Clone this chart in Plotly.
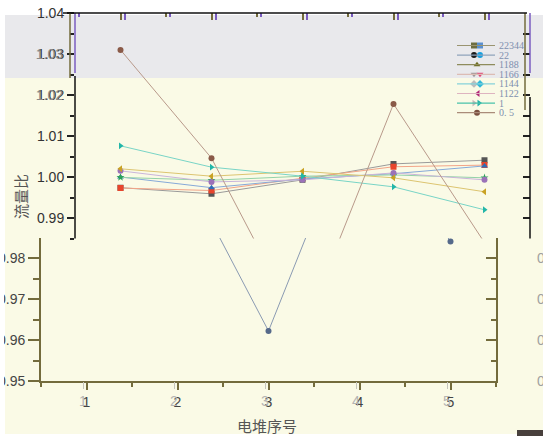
import plotly.graph_objects as go

W, H = 543, 436

# ---------------- data ----------------
stacks = [1, 2, 3, 4, 5]
x_tick_text = ["1", "2", "3", "4", "5"]
series_names = ["22344", "22", "1188", "1166", "1144", "1122", "1", "0. 5"]

s_22344 = [0.9974, 0.9959, 0.9993, 1.0032, 1.0041]
s_22 = [0.9973, 0.9967, 0.9997, 1.0025, 1.0029]
s_1188 = [1.0000, 0.9974, 0.9995, 1.0008, 1.0027]
s_1166 = [0.9999, 0.9992, 1.0002, 1.0005, 0.9998]
s_1144 = [1.0015, 0.9988, 0.9993, 1.0010, 0.9993]
s_1122 = [1.0020, 1.0002, 1.0014, 0.9998, 0.9964]
s_1 = [1.0076, 1.0024, 1.0002, 0.9976, 0.9920]
s_05 = [1.0310, 1.0046, 0.9622, 1.0178, 0.9840]

inner_y_ticks = [0.99, 1.00, 1.01, 1.02, 1.03, 1.04]
inner_y_text = ["0.99", "1.00", "1.01", "1.02", "1.03", "1.04"]
ghost_y_ticks = [1.02, 1.03]
ghost_y_text = ["1.02", "1.03"]
outer_y_ticks = [0.95, 0.96, 0.97, 0.98]
outer_y_text = ["0.95", "0.96", "0.97", "0.98"]

# ---------------- styles ----------------
OL = "#736b3c"
PU = "#7a5cc0"
series_style = [
    ("#555555", "#9a9a9a", "square"),
    ("#e8452c", "#f2a488", "square"),
    ("#2f6db5", "#86a9d8", "triangle-up"),
    ("#2ca25a", "#94d2a8", "star"),
    ("#9a72b8", "#c9b4da", "circle"),
    ("#c9a224", "#dcc470", "triangle-left"),
    ("#22b6a8", "#78d4c6", "triangle-right"),
    ("#8a5a48", "#b8998a", "circle"),
]
legend_style = [
    ("#9a9470", [(0, "#6e6e40", "square"), (6, "#5a90d0", "square")]),
    ("#8fa3bb", [(0, "#1a1a1a", "circle"), (6, "#18a0e0", "circle")]),
    ("#8e8c5c", [(3, "#6a6a1e", "triangle-up")]),
    ("#dcbcb4", [(0, "#a09898", "triangle-down"), (6, "#e04878", "triangle-down")]),
    ("#86d2da", [(0, "#bcbcbc", "diamond"), (6, "#30b8d8", "diamond")]),
    ("#deb4c0", [(4, "#b02878", "triangle-left")]),
    ("#48c2aa", [(0, "#c8b8b8", "triangle-right"), (5, "#20b0a8", "triangle-right")]),
    ("#aa8c7a", [(3, "#7a5040", "circle")]),
]


def px(x):
    return x / W


def py(y):
    return 1 - y / H


fig = go.Figure()

# ---- background (outer) chart: only the band below the inner chart is visible ----
band_top, band_bot = 238.0, 381.0
outer_lo = 0.95
outer_hi = outer_lo + (band_bot - band_top) / 4100.0

fig.add_trace(go.Scatter(
    x=stacks, y=s_05, xaxis="x", yaxis="y", mode="lines+markers",
    line=dict(color="#8a9ab2", width=1),
    marker=dict(color="#55698a", size=6, symbol="circle"),
    showlegend=False, hoverinfo="skip"))

# empty traces so that the ghost / extra axes get drawn
for xa, ya in [("x4", "y"), ("x", "y2"), ("x", "y7"), ("x5", "y3"), ("x2", "y6"), ("x2", "y4")]:
    fig.add_trace(go.Scatter(x=[None], y=[None], xaxis=xa, yaxis=ya, mode="markers",
                             showlegend=False, hoverinfo="skip"))

# ---- inner (foreground) chart ----
all_series = [s_22344, s_22, s_1188, s_1166, s_1144, s_1122, s_1, s_05]
for name, vals, (mc, lc, sym) in zip(series_names, all_series, series_style):
    fig.add_trace(go.Scatter(
        x=stacks, y=vals, xaxis="x2", yaxis="y3", mode="lines+markers", name=name,
        line=dict(color=lc, width=1),
        marker=dict(color=mc, size=6, symbol=sym),
        showlegend=False))

# ---- hand-drawn compact legend (pixel axes) ----
leg_rows = [45.5 + i * 9.6 for i in range(len(series_names))]
shapes = []
annotations = []
for name, yrow, (lc, marks) in zip(series_names, leg_rows, legend_style):
    shapes.append(dict(type="line", xref="paper", yref="paper",
                       x0=px(457), x1=px(495), y0=py(yrow), y1=py(yrow),
                       line=dict(color=lc, width=1.2), layer="above"))
    for dx, col, sym in marks:
        fig.add_trace(go.Scatter(
            x=[474 + dx], y=[yrow], xaxis="x3", yaxis="y5", mode="markers",
            marker=dict(color=col, size=6, symbol=sym),
            showlegend=False, hoverinfo="skip"))
    annotations.append(dict(x=px(497), y=py(yrow), xref="paper", yref="paper",
                            text=name, showarrow=False, xanchor="left", yanchor="middle",
                            font=dict(family="Liberation Serif", size=10, color="#7d8fae")))

# ---- backgrounds ----
shapes = [
    dict(type="rect", xref="paper", yref="paper", x0=px(5), x1=1, y0=py(434), y1=py(78),
         fillcolor="#fafae6", line=dict(width=0), layer="below"),
    dict(type="rect", xref="paper", yref="paper", x0=px(5), x1=1, y0=py(78), y1=py(15),
         fillcolor="#e9e9ec", line=dict(width=0), layer="below"),
    dict(type="rect", xref="paper", yref="paper", x0=px(517), x1=1, y0=0, y1=py(430),
         fillcolor="#48403c", line=dict(width=0), layer="above"),
    dict(type="rect", xref="paper", yref="paper", x0=0, x1=px(4), y0=py(436), y1=py(230),
         fillcolor="white", line=dict(width=0), layer="above"),
] + shapes


def vline(x, y0, y1, color, width=1.5):
    return dict(type="line", xref="paper", yref="paper", x0=px(x), x1=px(x),
                y0=py(y0), y1=py(y1), line=dict(color=color, width=width), layer="above")


shapes += [
    vline(70, 13, 78, OL),
    vline(75, 13, 73, PU),
    vline(75, 76, 238.5, "#111111"),
    vline(525, 13, 110, OL),
    vline(530, 13, 73, PU),
    vline(530, 97, 238.5, "#111111"),
    dict(type="line", xref="paper", yref="paper", x0=px(63), x1=px(527),
         y0=py(13), y1=py(13), line=dict(color="#111111", width=1.5), layer="above"),
]

annotations += [
    dict(x=px(20), y=py(197), xref="paper", yref="paper", text="流量比", textangle=-90,
         xanchor="center", yanchor="middle",
         showarrow=False, font=dict(family="Noto Sans CJK SC", size=15, color="#555555")),
    dict(x=px(267), y=py(425), xref="paper", yref="paper", text="电堆序号",
         xanchor="center", yanchor="middle",
         showarrow=False, font=dict(family="Noto Sans CJK SC", size=15, color="#555555")),
]

tickfont = dict(family="Liberation Sans", size=14, color="#444444")
ghost_font = dict(family="Liberation Sans", size=14, color="#b4b4b4")
shift_x = 3.5 / 91.0
shift4 = 4 / 91.0
no_grid = dict(automargin=False, showgrid=False, zeroline=False)

fig.update_layout(
    width=W, height=H, margin=dict(l=0, r=0, t=0, b=0, autoexpand=False),
    paper_bgcolor="white", plot_bgcolor="rgba(0,0,0,0)",
    showlegend=False, shapes=shapes, annotations=annotations,
    # outer chart
    xaxis=dict(domain=[px(41), px(496)], range=[0.5, 5.5], anchor="y",
               showline=True, linecolor=OL, linewidth=2,
               ticks="outside", ticklen=7, tickwidth=1.5, tickcolor=OL,
               tickvals=stacks, ticktext=x_tick_text, tickfont=tickfont,
               minor=dict(ticks="outside", ticklen=4, tickcolor=OL, dtick=0.5, tick0=0.5),
               **no_grid),
    xaxis4=dict(overlaying="x", anchor="y", range=[0.5 + shift_x, 5.5 + shift_x],
                showline=False, ticks="outside", ticklen=7, tickwidth=1, tickcolor="#c4c4bc",
                tickvals=stacks, ticktext=x_tick_text, tickfont=ghost_font, **no_grid),
    yaxis=dict(domain=[py(band_bot), py(band_top)], range=[outer_lo, outer_hi], anchor="x",
               showline=True, linecolor=OL, linewidth=2,
               ticks="outside", ticklen=11, tickwidth=1.5, tickcolor=OL,
               tickvals=outer_y_ticks, ticktext=outer_y_text, tickfont=tickfont,
               minor=dict(ticks="outside", ticklen=6, tickcolor=OL, dtick=0.005, tick0=0.95),
               **no_grid),
    yaxis2=dict(overlaying="y", side="right", anchor="x", range=[outer_lo, outer_hi],
                showline=True, linecolor=OL, linewidth=2,
                ticks="inside", ticklen=10, tickwidth=1.5, tickcolor=OL,
                tickvals=outer_y_ticks, showticklabels=False,
                minor=dict(ticks="inside", ticklen=5, tickcolor=OL, dtick=0.005, tick0=0.95),
                **no_grid),
    yaxis7=dict(overlaying="y", side="right", anchor="free", position=px(536),
                range=[outer_lo, outer_hi], showline=False, ticks="",
                tickvals=outer_y_ticks, ticktext=outer_y_text,
                tickfont=dict(family="Liberation Sans", size=14, color="#a0a0a0"), **no_grid),
    # inner chart
    xaxis2=dict(domain=[px(75), px(530)], range=[0.5, 5.5], anchor="y3", side="top",
                showline=False, ticks="inside", ticklen=7, tickwidth=1.5, tickcolor=OL,
                tickvals=stacks, showticklabels=False,
                minor=dict(ticks="inside", ticklen=4, tickcolor=OL, dtick=0.5, tick0=0.5),
                **no_grid),
    xaxis5=dict(overlaying="x2", anchor="y3", side="top", range=[0.5 - shift4, 5.5 - shift4],
                showline=False, ticks="inside", ticklen=7, tickwidth=1.5, tickcolor=PU,
                tickvals=stacks, showticklabels=False,
                minor=dict(ticks="inside", ticklen=4, tickcolor=PU, dtick=0.5, tick0=0.5),
                **no_grid),
    yaxis6=dict(overlaying="y3", side="left", anchor="free", position=px(63),
                range=[0.985, 1.04], showline=False, ticks="",
                tickvals=ghost_y_ticks, ticktext=ghost_y_text,
                tickfont=dict(family="Liberation Sans", size=14, color="#8a8a8a"), **no_grid),
    yaxis3=dict(domain=[py(238.5), py(13)], range=[0.985, 1.04], anchor="x2",
                showline=False, ticks="outside", ticklen=7, tickwidth=1.5, tickcolor="#222222",
                tickvals=inner_y_ticks, ticktext=inner_y_text,
                tickfont=dict(family="Liberation Sans", size=14, color="#333333"),
                minor=dict(ticks="outside", ticklen=4, tickcolor="#222222", dtick=0.005, tick0=0.985),
                **no_grid),
    yaxis4=dict(overlaying="y3", side="right", anchor="x2", range=[0.985, 1.04],
                showline=False, ticks="inside", ticklen=7, tickwidth=1.5, tickcolor="#222222",
                tickmode="linear", tick0=0.985, dtick=0.005, showticklabels=False, **no_grid),
    # pixel axes for legend glyphs
    xaxis3=dict(domain=[0, 1], range=[0, W], anchor="y5", visible=False, fixedrange=True,
                automargin=False),
    yaxis5=dict(domain=[0, 1], range=[H, 0], anchor="x3", visible=False, fixedrange=True,
                automargin=False),
)

fig.write_html("out.html", config={"displayModeBar": False},
               post_script="document.body.style.margin='0px';document.body.style.overflow='hidden';")
